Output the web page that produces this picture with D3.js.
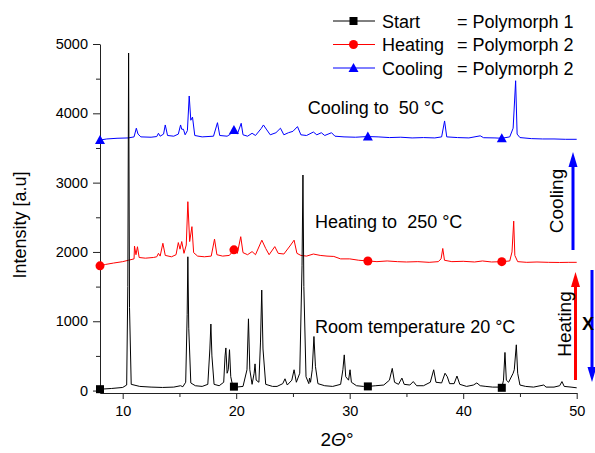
<!DOCTYPE html>
<html>
<head>
<meta charset="utf-8">
<script src="https://cdn.jsdelivr.net/npm/d3@7"></script>
<style>
  body { margin: 0; background: #fff; }
  text { font-family: "Liberation Sans", Arial, sans-serif; fill: #000; white-space: pre; }
</style>
</head>
<body>
<div id="chart"></div>
<script>
// diffraction patterns, [2theta, intensity]
var startPattern = [
  [8.0, 20], [9.0, 30], [10.0, 45], [10.35, 80], [10.45, 1500], [10.52, 4870], [10.6, 1200], [10.75, 90],
  [11.5, 60], [12.5, 50], [13.5, 45], [14.5, 50], [15.1, 70], [15.3, 55], [15.55, 120], [15.68, 1100],
  [15.74, 1930], [15.82, 900], [16.0, 110], [16.4, 70], [17.0, 60], [17.5, 90], [17.68, 600], [17.77, 960],
  [17.86, 500], [18.05, 90], [18.5, 70], [18.9, 120], [19.02, 500], [19.09, 615], [19.2, 250], [19.3, 300],
  [19.41, 590], [19.52, 200], [19.7, 60], [20.0, 50], [20.6, 60], [20.95, 300], [21.08, 1035], [21.2, 300],
  [21.4, 90], [21.58, 250], [21.66, 385], [21.76, 150], [22.0, 120], [22.14, 700], [22.25, 1450], [22.36, 600],
  [22.6, 90], [23.2, 60], [23.6, 60], [24.1, 100], [24.3, 170], [24.5, 80], [24.9, 150], [25.1, 300],
  [25.3, 120], [25.6, 250], [25.8, 1800], [25.88, 3110], [25.96, 1500], [26.15, 200], [26.4, 100], [26.46, 180],
  [26.55, 120], [26.7, 300], [26.85, 780], [26.98, 350], [27.2, 100], [27.8, 70], [28.5, 60], [29.2, 90],
  [29.4, 300], [29.52, 515], [29.65, 200], [29.9, 150], [30.03, 300], [30.15, 120], [30.6, 70], [31.2, 60],
  [31.6, 60], [32.3, 70], [33.0, 80], [33.5, 150], [33.75, 320], [33.95, 120], [34.3, 90], [34.6, 180],
  [34.8, 90], [35.3, 80], [35.6, 130], [35.9, 70], [36.5, 70], [37.1, 120], [37.4, 300], [37.6, 120],
  [38.1, 110], [38.4, 250], [38.6, 200], [38.8, 100], [39.2, 100], [39.45, 210], [39.7, 90], [40.3, 60],
  [40.9, 80], [41.2, 110], [41.5, 70], [42.0, 60], [42.6, 50], [43.2, 50], [43.4, 40], [43.55, 150],
  [43.68, 550], [43.8, 150], [44.0, 120], [44.4, 250], [44.5, 300], [44.68, 660], [44.8, 250], [45.0, 80],
  [45.5, 60], [46.2, 50], [47.1, 80], [47.3, 50], [48.0, 50], [48.5, 70], [48.7, 130], [48.9, 60],
  [49.5, 50], [50.0, 40]
];

var heatingPattern = [
  [8.0, 1800], [8.5, 1820], [9.2, 1840], [10.0, 1860], [10.5, 1880], [11.0, 1900], [11.04, 2085], [11.17, 1960],
  [11.3, 2075], [11.45, 1920], [12.0, 1910], [12.7, 1920], [13.0, 1930], [13.15, 1980], [13.3, 1940], [13.54, 2125],
  [13.75, 1950], [14.3, 1930], [14.7, 1960], [14.9, 2135], [15.05, 2040], [15.2, 2150], [15.4, 1980], [15.6, 2100],
  [15.74, 2725], [15.9, 2150], [16.1, 2365], [16.25, 1990], [16.6, 1940], [17.2, 1930], [17.8, 1940], [18.09, 2185],
  [18.3, 1960], [18.8, 1940], [19.4, 1950], [19.8, 2030], [20.1, 1980], [20.4, 2220], [20.6, 1990], [21.0, 1960],
  [21.4, 2005], [21.7, 1960], [22.26, 2170], [22.6, 2050], [22.9, 1960], [23.4, 2077], [23.7, 1980], [24.2, 1970],
  [24.8, 2100], [25.1, 2170], [25.35, 1980], [25.7, 1950], [26.2, 1940], [26.8, 1970], [27.4, 1950], [28.0, 1940],
  [28.6, 1935], [29.2, 1900], [30.0, 1900], [30.8, 1880], [31.6, 1870], [32.4, 1860], [33.3, 1870], [34.2, 1860],
  [35.0, 1855], [36.0, 1860], [37.0, 1850], [37.8, 1860], [38.05, 1900], [38.2, 2050], [38.35, 1880], [39.0, 1860],
  [40.0, 1865], [41.0, 1855], [41.7, 1870], [42.5, 1855], [43.4, 1860], [44.1, 1870], [44.3, 2000], [44.45, 2445],
  [44.55, 1950], [44.8, 1860], [45.6, 1850], [46.5, 1855], [47.5, 1850], [48.5, 1848], [49.3, 1850], [50.0, 1850]
];

var coolingPattern = [
  [8.0, 3615], [8.6, 3630], [9.5, 3640], [10.5, 3645], [11.0, 3660], [11.2, 3785], [11.35, 3700], [11.6, 3660],
  [12.5, 3655], [13.0, 3665], [13.15, 3712], [13.3, 3670], [13.6, 3700], [13.75, 3832], [13.95, 3680], [14.5, 3670],
  [14.9, 3700], [15.1, 3832], [15.2, 3770], [15.35, 3770], [15.5, 3690], [15.7, 3750], [15.86, 4250], [16.0, 3900],
  [16.15, 3945], [16.35, 3680], [17.0, 3660], [18.0, 3670], [18.35, 3865], [18.55, 3680], [19.2, 3670], [19.5, 3700],
  [19.8, 3760], [20.1, 3700], [20.44, 3856], [20.6, 3690], [21.0, 3670], [21.4, 3712], [21.7, 3680], [22.2, 3780],
  [22.4, 3832], [22.7, 3760], [23.0, 3690], [23.5, 3720], [23.9, 3785], [24.2, 3690], [24.6, 3720], [25.0, 3740],
  [25.4, 3808], [25.7, 3690], [26.2, 3680], [26.8, 3730], [27.1, 3690], [27.5, 3720], [27.8, 3680], [28.4, 3720],
  [28.7, 3670], [29.5, 3660], [30.5, 3655], [31.6, 3665], [32.5, 3660], [33.5, 3650], [34.5, 3655], [35.5, 3645],
  [36.5, 3650], [37.5, 3645], [38.1, 3660], [38.36, 3890], [38.55, 3660], [39.5, 3650], [40.5, 3645], [41.5, 3675],
  [41.8, 3648], [42.8, 3645], [43.4, 3640], [44.1, 3660], [44.4, 3785], [44.62, 4470], [44.75, 3700], [45.0, 3650],
  [46.0, 3635], [47.0, 3630], [48.0, 3630], [49.0, 3625], [50.0, 3625]
];

var markerTheta = [8, 19.8, 31.6, 43.4];
var seriesNames = ["Start", "Heating", "Cooling"];
var seriesPhase = ["= Polymorph 1", "= Polymorph 2", "= Polymorph 2"];
var seriesColors = ["#000000", "#ff0000", "#0000ff"];
var seriesShapes = ["square", "circle", "triangle"];
var curveLabels = [
  {text: "Room temperature 20 \u00B0C", theta: 26.95, value: 830},
  {text: "Heating to  250 \u00B0C", theta: 26.95, value: 2345},
  {text: "Cooling to  50 \u00B0C", theta: 26.3, value: 3990}
];
var xTicks = [10, 20, 30, 40, 50];
var xMinor = [15, 25, 35, 45];
var yTicks = [0, 1000, 2000, 3000, 4000, 5000];
var yMinor = [500, 1500, 2500, 3500, 4500];

var W = 595, H = 453;

var svg = d3.select("#chart")
  .append("svg")
    .attr("width", W)
    .attr("height", H);

var x = d3.scaleLinear().domain([8, 50]).range([100, 576.7]);
var y = d3.scaleLinear().domain([-35, 5000]).range([393, 44]);

// axes
var xAxis = svg.append("g")
  .attr("transform", "translate(0," + y(-35) + ")")
  .call(d3.axisBottom(x).tickValues(xTicks).tickSize(6).tickSizeOuter(0).tickPadding(7).tickFormat(d3.format("d")));
svg.append("g")
  .attr("transform", "translate(0," + y(-35) + ")")
  .call(d3.axisBottom(x).tickValues(xMinor).tickSize(4).tickFormat(""))
  .select(".domain").remove();

var yAxis = svg.append("g")
  .attr("transform", "translate(" + x(8) + ",0)")
  .call(d3.axisLeft(y).tickValues(yTicks).tickSize(7).tickSizeOuter(0).tickPadding(5).tickFormat(d3.format("d")));
svg.append("g")
  .attr("transform", "translate(" + x(8) + ",0)")
  .call(d3.axisLeft(y).tickValues(yMinor).tickSize(4).tickFormat(""))
  .select(".domain").remove();

svg.selectAll(".tick text")
  .style("font-family", "'Liberation Sans', Arial, sans-serif")
  .style("font-size", "14.5px")
  .attr("fill", "#222");
svg.selectAll(".domain, .tick line").attr("stroke", "#222");

// axis titles
svg.append("text")
  .attr("transform", "translate(26," + 225 + ") rotate(-90)")
  .attr("text-anchor", "middle")
  .style("font-size", "18px")
  .text("Intensity [a.u]");

var xt = svg.append("text")
  .attr("x", 337)
  .attr("y", 446)
  .attr("text-anchor", "middle")
  .style("font-size", "19px");
xt.append("tspan").text("2");
xt.append("tspan").style("font-style", "italic").text("\u0398");
xt.append("tspan").text("\u00B0");

// curves
var line = d3.line()
  .x(function(d) { return x(d[0]); })
  .y(function(d) { return y(d[1]); });

var patterns = [startPattern, heatingPattern, coolingPattern];

function valueAt(data, t) {
  for (var i = 1; i < data.length; i++) {
    if (data[i][0] >= t) {
      var a = data[i - 1], b = data[i];
      return a[1] + (b[1] - a[1]) * (t - a[0]) / (b[0] - a[0]);
    }
  }
  return data[data.length - 1][1];
}

function drawMarker(g, shape, cx, cy, color) {
  if (shape == "square") {
    g.append("rect").attr("x", cx - 4).attr("y", cy - 4).attr("width", 8).attr("height", 8).attr("fill", color);
  } else if (shape == "circle") {
    g.append("circle").attr("cx", cx).attr("cy", cy).attr("r", 4.5).attr("fill", color);
  } else {
    g.append("path")
      .attr("d", "M" + cx + "," + (cy - 5) + "L" + (cx + 5) + "," + (cy + 4) + "L" + (cx - 5) + "," + (cy + 4) + "Z")
      .attr("fill", color);
  }
}

[2, 1, 0].forEach(function(i) {
  var g = svg.append("g");
  g.append("path")
    .datum(patterns[i])
    .attr("fill", "none")
    .attr("stroke", seriesColors[i])
    .attr("stroke-width", 1)
    .attr("d", line);
  markerTheta.forEach(function(t) {
    drawMarker(g, seriesShapes[i], x(t), y(valueAt(patterns[i], t)), seriesColors[i]);
  });
});

// curve annotations
svg.selectAll(".curveLabel")
  .data(curveLabels)
  .enter()
  .append("text")
    .attr("class", "curveLabel")
    .attr("x", function(d) { return x(d.theta); })
    .attr("y", function(d) { return y(d.value); })
    .style("font-size", "18px")
    .text(function(d) { return d.text; });

// legend
var legend = svg.append("g");
seriesNames.forEach(function(name, i) {
  var ly = 21 + i * 23.5;
  legend.append("line")
    .attr("x1", 333).attr("x2", 375).attr("y1", ly).attr("y2", ly)
    .attr("stroke", seriesColors[i]).attr("stroke-width", 1);
  drawMarker(legend, seriesShapes[i], 353.5, ly, seriesColors[i]);
  legend.append("text").attr("x", 382).attr("y", ly + 6.5).style("font-size", "18px").text(name);
  legend.append("text").attr("x", 457).attr("y", ly + 6.5).style("font-size", "18px").text(seriesPhase[i]);
});

// process arrows on the right
function arrow(x0, yFrom, yTo, color) {
  var dir = yTo < yFrom ? 1 : -1;
  svg.append("line")
    .attr("x1", x0).attr("x2", x0)
    .attr("y1", yFrom).attr("y2", yTo + dir * 12)
    .attr("stroke", color).attr("stroke-width", 3);
  svg.append("path")
    .attr("d", "M" + x0 + "," + yTo + "L" + (x0 + 4.5) + "," + (yTo + dir * 15) + "L" + (x0 - 4.5) + "," + (yTo + dir * 15) + "Z")
    .attr("fill", color);
}
arrow(573, 250, 152, "#0000ff");
arrow(575.5, 380, 272, "#ff0000");
arrow(592, 270, 382, "#0000ff");

svg.append("text")
  .attr("transform", "translate(563,201) rotate(-90)")
  .attr("text-anchor", "middle")
  .style("font-size", "19px")
  .text("Cooling");
svg.append("text")
  .attr("transform", "translate(571,324) rotate(-90)")
  .attr("text-anchor", "middle")
  .style("font-size", "19px")
  .text("Heating");
svg.append("text")
  .attr("x", 582)
  .attr("y", 330)
  .style("font-size", "18px")
  .style("font-weight", "bold")
  .text("X");
</script>
</body>
</html>
